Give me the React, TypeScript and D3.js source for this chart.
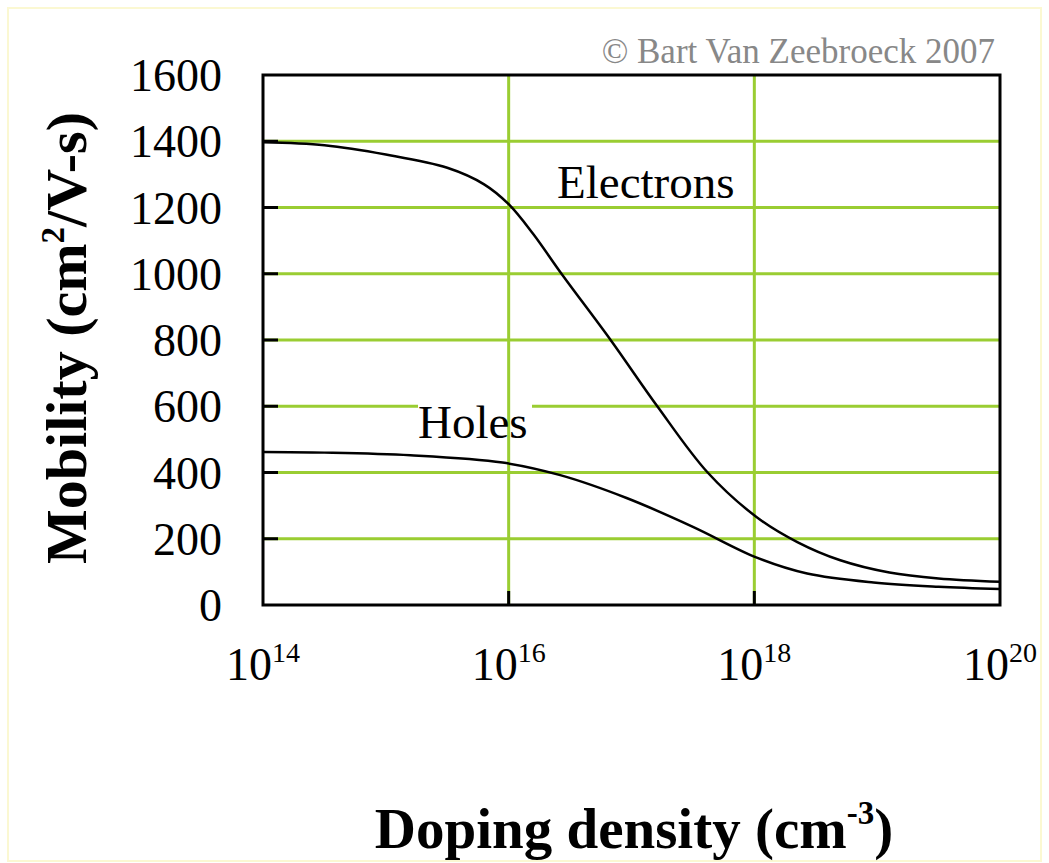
import React from 'react';
import * as d3 from 'd3';

// doping density exponents (10^x cm^-3) and mobility in cm^2/V-s
const electronExp = [14, 14.5, 15, 15.5, 15.8, 16, 16.2, 16.43, 16.83, 17.21, 17.62, 18.02, 18.35, 18.7, 19.1, 19.5, 20];
const electronMobility = [1397, 1388, 1360, 1320, 1270, 1210, 1120, 1000, 800, 600, 400, 265, 190, 135, 98, 80, 70];

const holeExp = [14, 14.5, 15.2, 15.95, 16.42, 16.96, 17.5, 18.02, 18.43, 18.97, 19.5, 20];
const holeMobility = [462, 460, 452, 430, 392, 323, 236, 143, 95, 68, 55, 48];

const yTicks = [0, 200, 400, 600, 800, 1000, 1200, 1400, 1600];
const xTickExp = [14, 16, 18, 20];

const W = 1049;
const H = 863;
const margin = { top: 75, right: 49, bottom: 258, left: 263 };
const GREEN = '#9acd32';
const SERIF = '"Liberation Serif", "Times New Roman", serif';

const x = d3
  .scaleLog()
  .domain([1e14, 1e20])
  .range([margin.left, W - margin.right]);
const y = d3
  .scaleLinear()
  .domain([0, 1600])
  .range([H - margin.bottom, margin.top]);

const line = d3
  .line<[number, number]>()
  .curve(d3.curveCatmullRom.alpha(0.5))
  .x((d) => x(Math.pow(10, d[0])))
  .y((d) => y(d[1]));

const electrons = electronExp.map((e, i) => [e, electronMobility[i]] as [number, number]);
const holes = holeExp.map((e, i) => [e, holeMobility[i]] as [number, number]);

export default function App() {
  const x0 = x.range()[0];
  const x1 = x.range()[1];
  const y0 = y.range()[0];
  const y1 = y.range()[1];
  const inner = yTicks.filter((t) => t > 0 && t < 1600);
  const innerX = xTickExp.filter((e) => e > 14 && e < 20);

  return (
    <svg
      width={W}
      height={H}
      style={{ position: 'absolute', left: 0, top: 0, background: '#fff' }}
      fontFamily={SERIF}
    >
      <rect x={8} y={8} width={W - 16} height={H - 10} fill="#fff" stroke="#fbf8d2" strokeWidth={2} />

      <text x={995} y={63} textAnchor="end" fontSize={35} fill="#888">
        © Bart Van Zeebroeck 2007
      </text>

      {/* horizontal grid */}
      {inner.map((t) => (
        <line key={'h' + t} x1={x0} x2={x1} y1={y(t)} y2={y(t)} stroke={GREEN} strokeWidth={3} />
      ))}

      {/* label box for Holes hides the grid */}
      <rect x={418} y={396} width={114} height={40} fill="#fff" />

      {/* vertical grid */}
      {innerX.map((e) => (
        <line
          key={'v' + e}
          x1={x(Math.pow(10, e))}
          x2={x(Math.pow(10, e))}
          y1={y1}
          y2={y0}
          stroke={GREEN}
          strokeWidth={3}
        />
      ))}

      {/* ticks */}
      {inner.map((t) => (
        <line key={'yt' + t} x1={x0} x2={x0 + 15} y1={y(t)} y2={y(t)} stroke="#000" strokeWidth={3} />
      ))}
      {innerX.map((e) => (
        <line
          key={'xt' + e}
          x1={x(Math.pow(10, e))}
          x2={x(Math.pow(10, e))}
          y1={y0}
          y2={y0 - 14}
          stroke="#000"
          strokeWidth={3}
        />
      ))}

      <path d={line(electrons) || ''} fill="none" stroke="#000" strokeWidth={2.5} />
      <path d={line(holes) || ''} fill="none" stroke="#000" strokeWidth={2.5} />

      <rect x={x0} y={y1} width={x1 - x0} height={y0 - y1} fill="none" stroke="#000" strokeWidth={3} />

      <text x={557} y={198} fontSize={47} fill="#000">
        Electrons
      </text>
      <text x={418} y={438} fontSize={47} fill="#000">
        Holes
      </text>

      {/* y tick labels */}
      {yTicks.map((t) => (
        <text key={'yl' + t} x={222} y={y(t)} dy="0.35em" textAnchor="end" fontSize={46} fill="#000">
          {t}
        </text>
      ))}

      {/* x tick labels */}
      {xTickExp.map((e) => (
        <text key={'xl' + e} x={x(Math.pow(10, e))} y={680} textAnchor="middle" fontSize={46} fill="#000">
          <tspan>10</tspan>
          <tspan dy={-18} fontSize={28}>
            {e}
          </tspan>
        </text>
      ))}

      {/* axis titles */}
      <text
        transform="translate(86, 338) rotate(-90)"
        textAnchor="middle"
        fontSize={58}
        fontWeight="bold"
        fill="#000"
      >
        Mobility (cm
        <tspan dy={-22} fontSize={33}>
          2
        </tspan>
        <tspan dy={22}>/V-s)</tspan>
      </text>
      <text x={634} y={848} textAnchor="middle" fontSize={57} fontWeight="bold" fill="#000">
        Doping density (cm
        <tspan dy={-24} fontSize={33}>
          -3
        </tspan>
        <tspan dy={24}>)</tspan>
      </text>
    </svg>
  );
}
